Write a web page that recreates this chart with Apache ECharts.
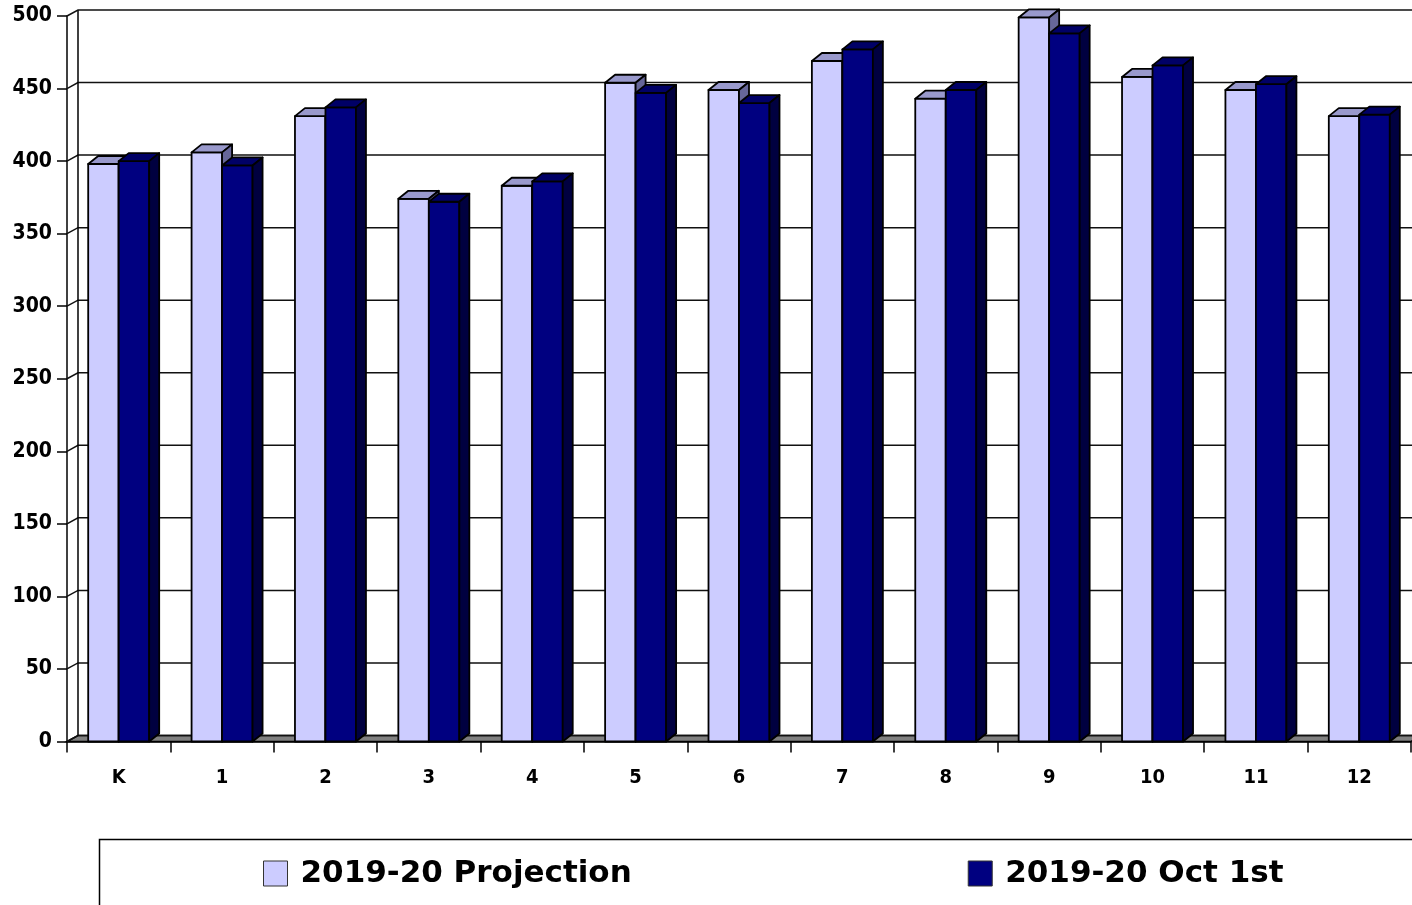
<!DOCTYPE html>
<html>
<head>
<meta charset="utf-8">
<title>2019-20 enrollment by grade</title>
<style>
    html, body { margin: 0; padding: 0; background: #fff; }
    #chart { width: 1412px; height: 905px; }
</style>
</head>
<body>
<div id="chart"></div>
<script src="https://cdn.jsdelivr.net/npm/echarts@6/dist/echarts.min.js"></script>
<script>
    var grades = ['K', '1', '2', '3', '4', '5', '6', '7', '8', '9', '10', '11', '12'];
    var projection = [398, 406, 431, 374, 383, 454, 449, 469, 443, 499, 458, 449, 431];
    var octFirst = [400, 397, 437, 372, 386, 447, 440, 477, 449, 488, 466, 453, 432];
    var yTicks = [0, 50, 100, 150, 200, 250, 300, 350, 400, 450, 500];

    // depth of the fake 3d
    var wallDx = 11, wallDy = 6;
    var barDx = 10, barDy = 8;
    var labelFont = "'DejaVu Sans Condensed', 'DejaVu Sans', sans-serif";

    function frameItem(params, api) {
        var cs = params.coordSys;
        var v = api.value(1);
        var y = api.coord([0, v])[1];
        var children = [];
        if (v === 0) {
            children.push({
                type: 'polygon',
                shape: { points: [[cs.x, y], [cs.x + cs.width, y], [cs.x + cs.width + wallDx, y - wallDy], [cs.x + wallDx, y - wallDy]] },
                style: { fill: '#808080', stroke: '#000', lineWidth: 1.5 }
            });
        }
        if (v === yTicks[yTicks.length - 1]) {
            var y0 = api.coord([0, 0])[1];
            children.push({
                type: 'line',
                shape: { x1: cs.x + wallDx, y1: y - wallDy, x2: cs.x + wallDx, y2: y0 - wallDy },
                style: { stroke: '#000', lineWidth: 1.5 }
            });
        }
        children.push({
            type: 'polyline',
            shape: { points: [[cs.x, y], [cs.x + wallDx, y - wallDy], [cs.x + cs.width + wallDx, y - wallDy]] },
            style: { stroke: '#111', lineWidth: 1.5, fill: null }
        });
        return { type: 'group', children: children };
    }

    function barRenderer(colors, left) {
        return function (params, api) {
            var idx = api.value(0);
            var top = api.coord([idx, api.value(1)]);
            var base = api.coord([idx, 0]);
            var w = api.size([1, 0])[0] * 0.295;
            var x0 = left ? top[0] - w : top[0];
            var x1 = x0 + w;
            var yt = top[1], yb = base[1];
            var line = { stroke: '#000', lineWidth: 1.8, lineJoin: 'round' };
            return {
                type: 'group',
                children: [
                    { type: 'rect', shape: { x: x0, y: yt, width: w, height: yb - yt },
                      style: Object.assign({ fill: colors[0] }, line) },
                    { type: 'polygon', shape: { points: [[x0, yt], [x0 + barDx, yt - barDy], [x1 + barDx, yt - barDy], [x1, yt]] },
                      style: Object.assign({ fill: colors[1] }, line) },
                    { type: 'polygon', shape: { points: [[x1, yt], [x1 + barDx, yt - barDy], [x1 + barDx, yb - barDy], [x1, yb]] },
                      style: Object.assign({ fill: colors[2] }, line) }
                ]
            };
        };
    }

    var chart = echarts.init(document.getElementById('chart'));

    var option = {
        backgroundColor: '#fff',
        animation: false,
        grid: { left: 67, right: 1, top: 16, bottom: 163.5 },
        // legend frame runs off the right and bottom edges like the original
        graphic: [{
            type: 'rect',
            left: 97,
            top: 837,
            shape: { width: 1400, height: 120 },
            style: { fill: null, stroke: '#000', lineWidth: 1.5 },
            silent: true
        }],
        legend: {
            data: ['2019-20 Projection', '2019-20 Oct 1st'],
            left: 263,
            top: 858,
            icon: 'rect',
            itemWidth: 24,
            itemHeight: 25,
            itemGap: 336,
            padding: 0,
            itemStyle: { borderColor: '#333', borderWidth: 1 },
            textStyle: {
                fontFamily: "'DejaVu Sans', sans-serif",
                fontWeight: 'bold',
                fontSize: 31,
                color: '#000',
                padding: [0, 0, 0, 8]
            }
        },
        xAxis: {
            type: 'category',
            data: grades,
            boundaryGap: true,
            axisLine: { lineStyle: { color: '#000', width: 1.5 } },
            axisTick: { show: true, length: 11, lineStyle: { color: '#000', width: 1.5 } },
            axisLabel: { margin: 26, color: '#000', fontFamily: labelFont, fontWeight: 'bold', fontSize: 20 },
            splitLine: { show: false }
        },
        yAxis: {
            type: 'value',
            min: 0,
            max: 500,
            interval: 50,
            axisLine: { show: true, lineStyle: { color: '#000', width: 1.5 } },
            axisTick: { show: true, length: 10, lineStyle: { color: '#000', width: 1.5 } },
            axisLabel: { margin: 15, color: '#000', fontFamily: labelFont, fontWeight: 'bold', fontSize: 21, padding: [12, 0, 0, 0] },
            splitLine: { show: false }
        },
        series: [
            {
                name: 'frame',
                type: 'custom',
                renderItem: frameItem,
                data: yTicks.map(function (v) { return [0, v]; }),
                silent: true,
                z: 1
            },
            {
                name: '2019-20 Projection',
                type: 'custom',
                itemStyle: { color: '#CCCCFF' },
                renderItem: barRenderer(['#CCCCFF', '#9999CC', '#666699'], true),
                data: projection.map(function (v, i) { return [i, v]; }),
                z: 2
            },
            {
                name: '2019-20 Oct 1st',
                type: 'custom',
                itemStyle: { color: '#000080' },
                renderItem: barRenderer(['#000080', '#000066', '#000040'], false),
                data: octFirst.map(function (v, i) { return [i, v]; }),
                z: 3
            }
        ]
    };

    chart.setOption(option);
</script>
</body>
</html>
